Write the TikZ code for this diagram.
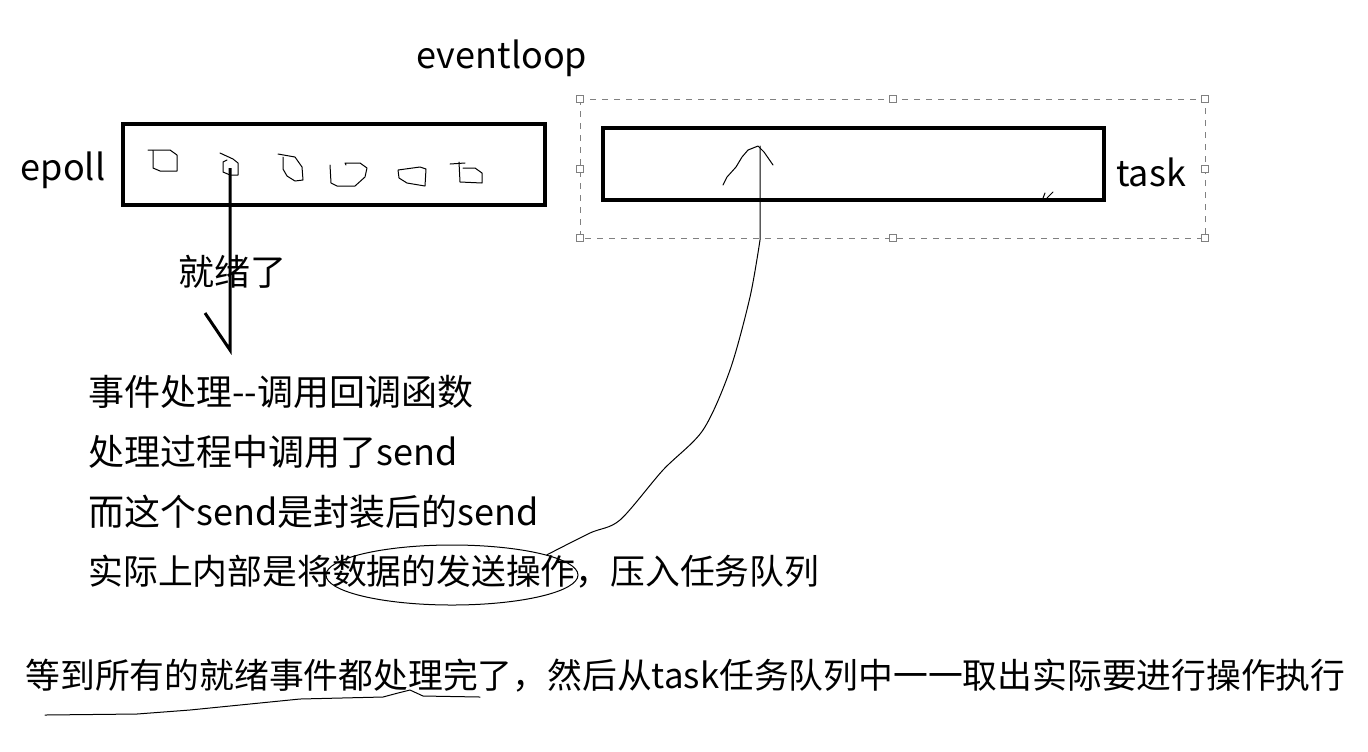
\documentclass[tikz,border=0pt]{standalone}
\usepackage{fontspec}
\setmainfont{Noto Sans CJK SC}
\usetikzlibrary{positioning,shapes.geometric}

\tikzset{
  label/.style={inner sep=0pt,font=\fontsize{18pt}{22pt}\selectfont},
  textline/.style={label,anchor=west},
  queuebox/.style={draw,line width=2pt,inner sep=0pt},
  pen/.style={line width=0.5pt,line join=round,line cap=round},
  handle/.style={draw=gray,fill=white,line width=0.4pt,minimum size=3.5pt,inner sep=0pt}
}

\begin{document}
\begin{tikzpicture}[x=0.5pt,y=-0.5pt]
  \useasboundingbox (0,0) rectangle (1368,751);

  \node[label] (loop) at (502,58) {eventloop};

  % epoll
  \draw[queuebox] (123,124) rectangle (545,205);
  \node[label] (epoll) at (63,170) {epoll};
  \draw[pen] (148,150) -- (170,150) -- (177,155) -- (177,171) -- (160,171) -- (153,168) -- (153,151);
  \draw[pen] (220,153) -- (233,159) -- (238,163) -- (238,175) -- (230,175) -- (223,172) -- (223,162) -- (227,160);
  \draw[pen] (278,154) -- (295,157) -- (302,167) -- (303,180) -- (295,181) -- (287,176) -- (283,169) -- (283,157);
  \draw[pen] (330,165) -- (331,183) -- (337,186) -- (355,186) -- (365,177) -- (367,168) -- (360,163) -- (345,163) -- (346,165);
  \draw[pen] (398,170) -- (399,178) -- (407,183) -- (425,186) -- (426,169) -- (420,167) -- cycle;
  \draw[pen] (450,164) -- (465,163) (459,162) -- (460,182) -- (482,183) -- (482,173) -- (475,168) -- (463,168);

  \coordinate (ready) at (230,168);
  \coordinate (readyend) at (230,350);
  \draw[line width=1.5pt] (ready) -- (readyend) -- (205,313);
  \node[label] (rdy) at (232,272) {就绪了};

  % task queue with selection frame
  \draw[gray,dashed,line width=0.5pt] (580,99) rectangle (1205,238);
  \foreach \hx/\hy in {580/99,893/99,1205/99,580/169,1205/169,580/238,893/238,1205/238}
    \node[handle] at (\hx,\hy) {};
  \draw[queuebox] (603,128) rectangle (1104,200);
  \node[label] (task) at (1151,172) {task};
  \draw[pen] (1043,198) -- (1045,193) (1047,198) -- (1053,192);

  \node[textline] (l1) at (88,392) {事件处理-{}-调用回调函数};
  \node[textline] (l2) at (88,452) {处理过程中调用了send};
  \node[textline] (l3) at (88,512) {而这个send是封装后的send};
  \node[textline,font=\fontsize{17.4pt}{22pt}\selectfont] (l4) at (88,572) {实际上内部是将数据的发送操作，压入任务队列};
  \node[draw,ellipse,pen,minimum width=126pt,minimum height=30pt] (op) at (452,575) {};

  \coordinate (push) at (760,146);
  \draw[pen] plot[smooth,tension=0.5] coordinates {(op.12) (590,533) (620,520) (663,470) (703,430) (730,370) (750,297) (760,240)} -- (push);
  \draw[pen] (723,185) -- (727,177) -- (736,167) -- (742,157) -- (748,150) -- (758,146) -- (764,152) -- (773,165);

  \node[textline,font=\fontsize{17.4pt}{22pt}\selectfont] (l5) at (25,676) {等到所有的就绪事件都处理完了，然后从task任务队列中一一取出实际要进行操作执行};
  \draw[pen] (45,715) -- (137,714) -- (190,710) -- (300,699) -- (383,697) -- (398,693) -- (410,690) -- (423,696) -- (480,697);
\end{tikzpicture}
\end{document}
